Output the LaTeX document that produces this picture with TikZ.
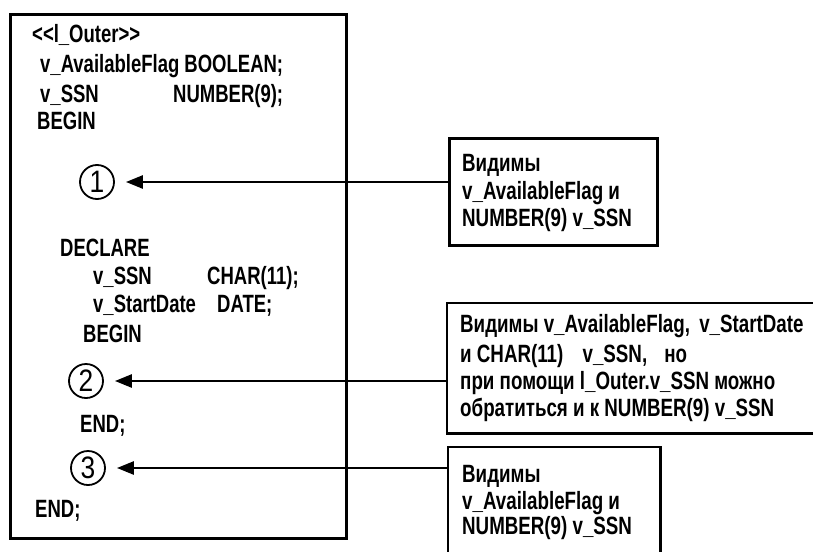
\documentclass[tikz,border=0pt]{standalone}
\usepackage{fontspec}
\setmainfont{Liberation Sans Bold}[FakeStretch=0.75]
\newfontfamily\codefont{Liberation Sans Bold}[FakeStretch=0.74]
\newfontfamily\digitfont{Liberation Sans}[FakeStretch=0.85]
\usetikzlibrary{arrows.meta}
\begin{document}
\begin{tikzpicture}[x=1pt,y=-1pt,
  txt/.style={anchor=base west, inner sep=0pt, font=\fontsize{25}{28}\selectfont},
  code/.style={anchor=base west, inner sep=0pt, font=\codefont\fontsize{25}{28}\selectfont},
  frame/.style={draw, line width=2.6pt, anchor=north west, inner sep=0pt},
  openbox/.style={draw=none, anchor=north west, inner sep=0pt},
  boxline/.style={line width=2.6pt},
  arr/.style={line width=2.6pt, -{Triangle[length=17pt,width=13pt]}, shorten >=11pt},
  num/.style={circle, draw, line width=1.8pt, minimum size=34pt, inner sep=0pt, font=\digitfont\fontsize{31}{31}\selectfont}]
\useasboundingbox (0,0) rectangle (813,551);

% main code box
\node[frame, minimum width=336pt, minimum height=524pt] (main) at (9,13) {};
\node[code] (t1) at (32,42) {<\kern0pt<l\_Outer>\kern0pt>};
\node[code] (t2) at (40,72) {v\_AvailableFlag BOOLEAN;};
\node[code] (t3a) at (40,102) {v\_SSN};
\node[code] (t3b) at (173,102) {NUMBER(9);};
\node[code] (t4) at (37,129) {BEGIN};
\node[code] (t5) at (60,256) {DECLARE};
\node[code] (t6a) at (93,284) {v\_SSN};
\node[code] (t6b) at (207,284) {CHAR(11);};
\node[code] (t7a) at (93,312) {v\_StartDate};
\node[code] (t7b) at (217,312) {DATE;};
\node[code] (t8) at (83,342) {BEGIN};
\node[code] (t9) at (80,432) {END;};
\node[code] (t10) at (35,517) {END;};

% circled markers
\node[num] (c1) at (97,182) {1};
\node[num] (c2) at (86,381) {2};
\node[num] (c3) at (88,468) {3};

% box 1
\node[frame, minimum width=208pt, minimum height=107pt] (b1) at (448,137) {};
\node[txt] (b1l1) at (462,171) {Видимы};
\node[txt] (b1l2) at (462,199) {v\_AvailableFlag и};
\node[txt] (b1l3) at (462,226) {NUMBER(9) v\_SSN};

% box 2 (open at the right)
\node[openbox, minimum width=383pt, minimum height=130pt] (b2) at (447,303) {};
\draw[boxline] (b2.north east) -- (b2.north west) -- (b2.south west) -- (b2.south east);
\node[txt] (b2l1) at (460,332) {Видимы v\_AvailableFlag,\hspace{4pt} v\_StartDate};
\node[txt] (b2l2) at (460,362) {и CHAR(11)\hspace{14pt} v\_SSN,\hspace{12pt} но};
\node[txt] (b2l3) at (460,389) {при помощи l\_Outer.v\_SSN можно};
\node[txt] (b2l4) at (460,416) {обратиться и к NUMBER(9) v\_SSN};

% box 3 (open at the bottom)
\node[openbox, minimum width=212pt, minimum height=123pt] (b3) at (448,447) {};
\draw[boxline] (b3.south west) -- (b3.north west) -- (b3.north east) -- (b3.south east);
\node[txt] (b3l1) at (462,482) {Видимы};
\node[txt] (b3l2) at (462,509) {v\_AvailableFlag и};
\node[txt] (b3l3) at (462,534) {NUMBER(9) v\_SSN};

% arrows
\draw[arr] (b1.west |- c1) -- (c1.east);
\draw[arr] (b2.west |- c2) -- (c2.east);
\draw[arr] (b3.west |- c3) -- (c3.east);
\end{tikzpicture}
\end{document}
